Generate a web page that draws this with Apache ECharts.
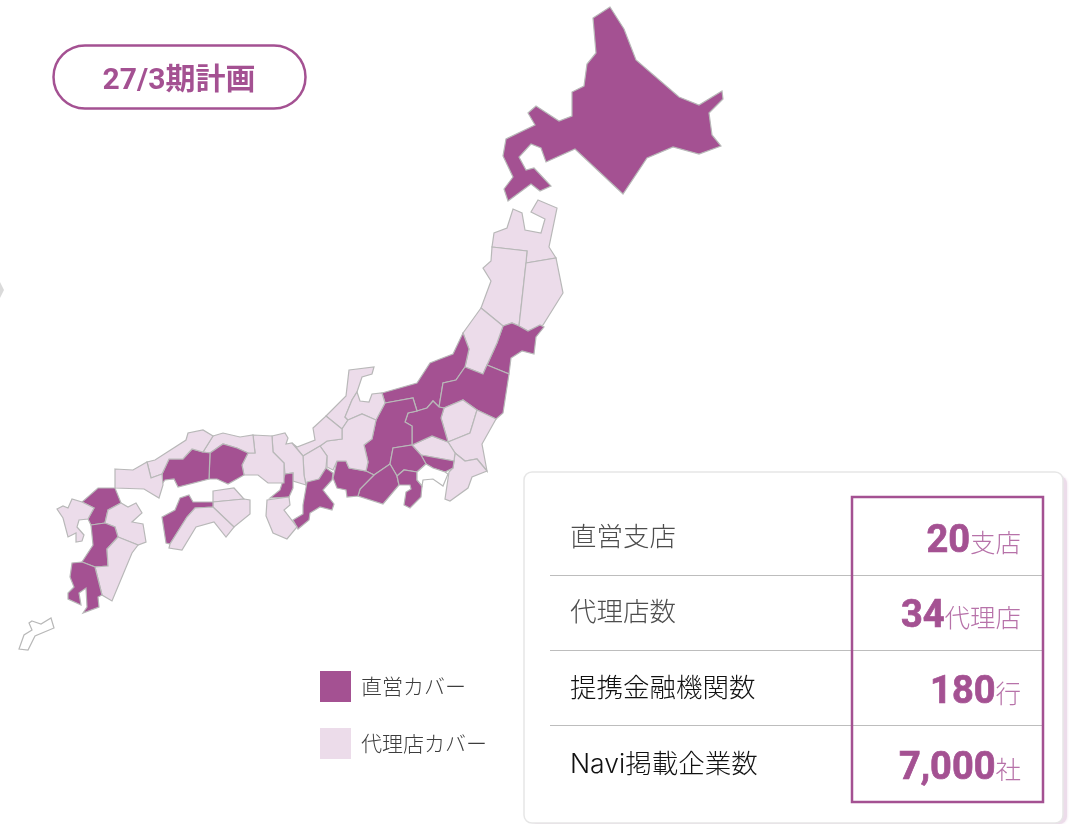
<!DOCTYPE html>
<html>
<head>
<meta charset="utf-8">
<style>
html,body{margin:0;padding:0;background:#fff;}
#map{width:1081px;height:824px;}
</style>
<script src="https://cdn.jsdelivr.net/npm/echarts@6/dist/echarts.min.js"></script>
</head>
<body>
<div id="map"></div>
<script>
var directPrefs = ['北海道','宮城','福島','新潟','長野','群馬','山梨','東京','静岡','伊豆','愛知','三重','大阪','広島','岡山','愛媛','福岡','熊本','鹿児島'];
var agencyPrefs = ['青森','秋田','岩手','山形','栃木','茨城','埼玉','千葉','石川','富山','福井','岐阜','滋賀','京都','兵庫','和歌山','山口','島根','鳥取','香川','徳島','高知','長崎','大分','宮崎'];
var uncoveredPrefs = ['神奈川','沖縄'];
var legendLabels = ['直営カバー','代理店カバー'];
var planTitle = '27/3期計画';
var tableLabels = ['直営支店','代理店数','提携金融機関数','Navi掲載企業数'];
var tableValues = ['20','34','180','7,000'];
var tableUnits = ['支店','代理店','行','社'];

// 地図の形（画面座標のまま）
var prefShapes = {
    '北海道': [[610,7],[593,18],[596,53],[587,64],[584,86],[572,92],[572,116],[559,121],[536,106],[528,113],[535,125],[506,139],[503,156],[513,177],[504,189],[508,201],[531,184],[540,191],[551,186],[534,168],[526,170],[519,157],[531,144],[541,148],[546,162],[575,149],[623,194],[647,158],[673,147],[699,154],[721,146],[712,135],[709,113],[723,99],[722,91],[699,105],[679,97],[636,60],[624,29]],
    '青森': [[538,200],[557,208],[549,247],[556,258],[526,263],[527,251],[492,247],[494,233],[507,228],[513,209],[522,213],[525,230],[541,233],[545,219],[531,212]],
    '秋田': [[492,247],[527,251],[526,263],[519,326],[512,323],[503,326],[481,308],[491,281],[483,268],[491,261]],
    '岩手': [[526,263],[556,258],[563,293],[543,325],[528,331],[519,326]],
    '宮城': [[503,326],[512,323],[519,326],[528,331],[540,325],[544,327],[536,337],[534,354],[522,351],[511,358],[509,374],[487,365],[497,343]],
    '山形': [[481,308],[503,326],[497,343],[487,365],[483,374],[465,367],[469,349],[463,333]],
    '新潟': [[382,393],[417,383],[430,363],[440,359],[453,354],[463,333],[469,349],[465,367],[456,380],[443,383],[439,407],[433,401],[427,408],[417,411],[413,398],[385,403]],
    '福島': [[465,367],[483,374],[487,365],[509,374],[503,413],[496,419],[477,410],[463,400],[444,408],[439,407],[443,383],[456,380]],
    '栃木': [[463,400],[477,410],[470,433],[448,442],[441,418],[444,408]],
    '茨城': [[477,410],[496,419],[482,444],[487,471],[477,459],[465,461],[455,453],[448,442],[470,433]],
    '千葉': [[455,453],[465,461],[477,459],[487,471],[472,477],[468,488],[450,501],[445,499],[449,472],[453,468],[454,461]],
    '埼玉': [[412,445],[432,436],[448,442],[455,453],[454,461],[421,455]],
    '東京': [[421,455],[454,461],[453,468],[445,472],[433,468],[426,464]],
    '群馬': [[417,411],[427,408],[433,401],[439,407],[444,408],[441,418],[448,442],[432,436],[412,445],[412,426],[405,422],[408,413]],
    '長野': [[385,403],[413,398],[417,411],[408,413],[405,422],[412,426],[412,445],[393,448],[390,464],[374,475],[366,471],[368,462],[364,445],[372,439],[376,420]],
    '山梨': [[393,448],[412,445],[421,455],[426,464],[417,472],[404,470],[397,476],[390,464]],
    '静岡': [[390,464],[397,476],[399,485],[383,504],[358,496],[360,489],[374,475]],
    '伊豆': [[397,476],[404,470],[417,472],[417,480],[422,486],[421,497],[410,508],[404,505],[406,492],[411,489],[410,485],[399,485]],
    '神奈川': [[417,472],[426,464],[433,468],[445,472],[448,474],[443,486],[433,479],[423,480],[422,486],[417,480]],
    '愛知': [[337,461],[346,461],[349,468],[366,471],[374,475],[360,489],[358,496],[347,497],[346,490],[337,488],[333,478]],
    '石川': [[349,370],[374,367],[372,374],[362,377],[357,392],[352,400],[345,417],[348,420],[342,429],[326,416],[346,396]],
    '富山': [[357,392],[360,401],[369,402],[372,394],[382,393],[385,403],[376,420],[362,414],[348,420],[345,417],[352,400]],
    '岐阜': [[348,420],[362,414],[376,420],[372,439],[364,445],[368,462],[366,471],[349,468],[346,461],[337,461],[333,470],[327,467],[327,456],[320,446],[327,441],[342,439],[342,429]],
    '福井': [[292,443],[297,447],[315,440],[313,428],[326,416],[342,429],[342,439],[327,441],[320,446],[303,456]],
    '滋賀': [[303,456],[320,446],[327,456],[326,468],[319,479],[306,485],[304,475]],
    '三重': [[307,482],[319,479],[326,468],[333,473],[332,480],[323,490],[334,504],[332,510],[320,507],[310,513],[309,520],[298,529],[293,520],[303,514],[303,505]],
    '京都': [[272,436],[285,433],[288,438],[286,444],[292,443],[303,456],[304,475],[306,485],[293,481],[293,473],[285,474],[284,463],[273,452]],
    '大阪': [[285,474],[293,473],[293,488],[289,497],[270,498],[280,490]],
    '和歌山': [[267,500],[289,497],[290,505],[284,510],[297,527],[287,539],[273,533],[266,516]],
    '兵庫': [[253,435],[272,436],[273,452],[284,463],[284,483],[268,483],[258,475],[244,475],[242,465],[248,453],[255,453]],
    '鳥取': [[213,436],[223,433],[240,437],[253,435],[255,453],[248,453],[237,448],[223,444],[210,453],[203,452]],
    '岡山': [[210,453],[223,444],[237,448],[248,453],[242,465],[244,475],[228,484],[217,479],[209,479]],
    '広島': [[169,459],[183,459],[192,449],[203,452],[210,453],[209,479],[178,487],[174,479],[165,480],[162,484],[162,474]],
    '島根': [[147,462],[155,460],[186,440],[188,433],[203,430],[213,436],[203,452],[192,449],[183,459],[169,459],[162,474],[151,478]],
    '山口': [[115,469],[133,470],[147,462],[151,478],[162,474],[163,485],[159,498],[144,489],[115,488]],
    '香川': [[213,491],[234,488],[244,499],[213,502]],
    '徳島': [[213,502],[244,499],[250,500],[250,514],[234,527],[213,507]],
    '愛媛': [[162,517],[175,510],[180,498],[189,495],[193,502],[213,502],[213,507],[195,508],[187,517],[170,544],[166,543]],
    '高知': [[195,508],[213,507],[234,527],[226,537],[214,522],[196,527],[182,550],[169,548],[170,544],[187,517]],
    '福岡': [[98,488],[115,488],[121,503],[108,510],[105,523],[91,525],[88,519],[94,508],[82,502]],
    '長崎': [[57,509],[63,506],[68,508],[72,499],[82,502],[94,508],[88,519],[79,520],[77,527],[84,535],[82,541],[76,542],[76,533],[68,537],[63,518]],
    '大分': [[108,510],[121,503],[128,507],[136,503],[142,513],[132,522],[143,524],[146,542],[138,545],[118,537],[115,527],[105,523]],
    '熊本': [[91,525],[105,523],[115,527],[118,537],[107,549],[108,566],[95,567],[82,562],[93,545]],
    '宮崎': [[118,537],[138,545],[132,553],[112,601],[102,595],[95,567],[108,566],[107,549]],
    '鹿児島': [[82,562],[95,567],[102,595],[98,597],[99,607],[83,613],[87,607],[86,588],[79,593],[81,605],[68,599],[68,593],[74,587],[70,577],[72,563]],
    '沖縄': [[32,621],[41,624],[51,618],[54,628],[35,636],[28,650],[19,649],[24,635],[32,630],[29,623]]
};

var purple = '#a45192';
var lightPurple = '#ecdcea';
var unitPurple = '#b772a9';

function buildGeoJson() {
    var features = [];
    Object.keys(prefShapes).forEach(function (name) {
        var ring = prefShapes[name].concat([prefShapes[name][0]]);
        features.push({
            type: 'Feature',
            properties: {name: name},
            geometry: {type: 'Polygon', coordinates: [ring]}
        });
    });
    return {type: 'FeatureCollection', features: features};
}

function seriesData() {
    var list = [];
    directPrefs.forEach(function (n) { list.push({name: n, value: 2}); });
    agencyPrefs.forEach(function (n) { list.push({name: n, value: 1}); });
    uncoveredPrefs.forEach(function (n) { list.push({name: n, value: 0}); });
    return list;
}

// 右下の表と左上のラベル
function buildGraphic() {
    var items = [];
    items.push({type: 'polygon', z: 1, silent: true,
        shape: {points: [[0,282],[4,290],[0,298]]}, style: {fill: '#dadada'}});
    items.push({type: 'rect', z: 1, silent: true,
        shape: {x: 53.5, y: 45.5, width: 252, height: 63, r: 31.5},
        style: {fill: '#fff', stroke: purple, lineWidth: 2.5}});
    items.push({type: 'text', z: 2, silent: true, x: 179, y: 81,
        style: {text: planTitle, fill: purple, align: 'center', verticalAlign: 'middle',
            font: '700 30px Roboto, "Noto Sans CJK JP"'}});
    // カード右側の薄い影
    items.push({type: 'rect', z: 1, silent: true,
        shape: {x: 530, y: 476, width: 537, height: 348, r: 8},
        style: {fill: lightPurple, shadowColor: lightPurple, shadowBlur: 3}});
    items.push({type: 'rect', z: 1, silent: true,
        shape: {x: 524, y: 472, width: 539, height: 351, r: 8},
        style: {fill: '#fff', stroke: '#e6e6e6', lineWidth: 1.5}});
    [576, 651, 726].forEach(function (y) {
        items.push({type: 'line', z: 2, silent: true,
            shape: {x1: 550, y1: y - 0.5, x2: 1042, y2: y - 0.5},
            style: {stroke: '#bdbdbd', lineWidth: 1}});
    });
    items.push({type: 'rect', z: 3, silent: true,
        shape: {x: 852, y: 497, width: 191, height: 305},
        style: {fill: 'transparent', stroke: purple, lineWidth: 2.5}});
    var rowY = [538, 613, 689, 765];
    tableLabels.forEach(function (label, i) {
        items.push({type: 'text', z: 4, silent: true, x: 570, y: rowY[i],
            style: {text: label, fill: i < 2 ? '#4d4d4d' : '#111', align: 'left', verticalAlign: 'middle',
                font: '300 26.5px Inter, "Noto Sans CJK JP"'}});
        items.push({type: 'text', z: 4, silent: true, x: 1021, y: rowY[i] + 4,
            style: {
                text: '{n|' + tableValues[i] + '}{u|' + tableUnits[i] + '}',
                align: 'right', verticalAlign: 'middle',
                rich: {
                    n: {font: '700 38px Roboto', fill: purple, stroke: purple, lineWidth: 0.7},
                    u: {font: '300 25.5px "Noto Sans CJK JP"', fill: unitPurple}
                }
            }});
    });
    return items;
}

var myChart = echarts.init(document.getElementById('map'));
echarts.registerMap('japan', buildGeoJson());
var option = {
    backgroundColor: '#fff',
    animation: false,
    visualMap: {
        type: 'piecewise',
        left: 320,
        top: 671,
        padding: 0,
        orient: 'vertical',
        itemWidth: 31,
        itemHeight: 31,
        itemGap: 26,
        itemSymbol: 'rect',
        textGap: 10,
        selectedMode: false,
        hoverLink: false,
        pieces: [
            {value: 2, label: legendLabels[0], color: purple},
            {value: 1, label: legendLabels[1], color: lightPurple}
        ],
        outOfRange: {color: '#fff'},
        textStyle: {color: '#3d3d3d', fontSize: 21, fontFamily: '"Noto Sans CJK JP"', fontWeight: 300}
    },
    series: [{
        name: 'カバー',
        type: 'map',
        map: 'japan',
        silent: true,
        roam: false,
        projection: {
            project: function (p) { return p; },
            unproject: function (p) { return p; }
        },
        left: 19,
        top: 7,
        width: 704,
        height: 643,
        label: {show: false},
        itemStyle: {borderColor: '#b8b8b8', borderWidth: 1.2},
        data: seriesData()
    }],
    graphic: {elements: buildGraphic()}
};
myChart.setOption(option, true);
window.addEventListener('resize', function () {
    myChart.resize();
});
</script>
</body>
</html>
